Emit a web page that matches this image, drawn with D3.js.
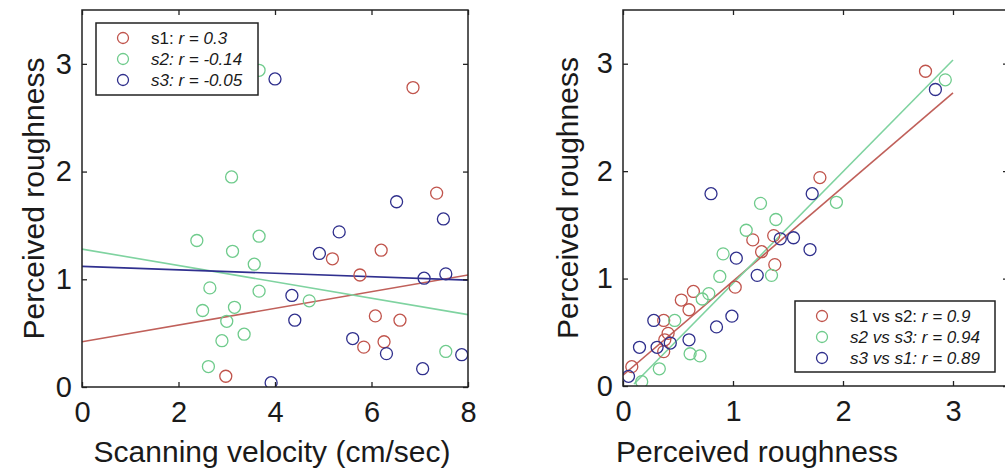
<!DOCTYPE html>
<html>
<head>
<meta charset="utf-8">
<script src="https://cdn.jsdelivr.net/npm/d3@7"></script>
<style>
  html, body { margin: 0; padding: 0; background: #fff; }
  svg { display: block; }
  text { font-family: "Liberation Sans", Arial, sans-serif; fill: #1a1a1a; }
</style>
</head>
<body>
<svg id="fig" width="1005" height="473"></svg>
<script>
// ---- Left panel: perceived roughness vs scanning velocity, per subject ----
const s1Velocity = [6.86, 7.35, 6.20, 5.19, 5.76, 6.08, 6.59, 5.84, 6.26, 2.98];
const s1Rough    = [2.78, 1.80, 1.27, 1.19, 1.04, 0.66, 0.62, 0.37, 0.42, 0.10];
const s2Velocity = [3.67, 3.10, 2.38, 3.67, 3.12, 3.57, 2.65, 3.67, 2.50, 3.16, 3.00, 3.36, 2.90, 2.62, 4.71, 7.54];
const s2Rough    = [2.94, 1.95, 1.36, 1.40, 1.26, 1.14, 0.92, 0.89, 0.71, 0.74, 0.61, 0.49, 0.43, 0.19, 0.80, 0.33];
const s3Velocity = [4.00, 6.52, 7.49, 5.33, 4.92, 4.35, 4.41, 5.61, 6.31, 7.06, 7.87, 7.09, 7.54, 3.92];
const s3Rough    = [2.86, 1.72, 1.56, 1.44, 1.24, 0.85, 0.62, 0.45, 0.31, 0.17, 0.30, 1.01, 1.05, 0.04];
// least-squares fit lines: [intercept, slope]
const velocityFits = [[0.42, 0.0775], [1.28, -0.076], [1.12, -0.016]];
const velocityLabels = [
  [["s1", false], [": ", false], ["r = 0.3", true]],
  [["s2: r = -0.14", true]],
  [["s3: r = -0.05", true]]
];
const velocityTicks = [0, 2, 4, 6, 8];
const roughTicks = [0, 1, 2, 3];

// ---- Right panel: pairwise roughness between subjects ----
const s1s2X = [2.75, 1.79, 1.37, 1.18, 1.26, 1.38, 1.02, 0.64, 0.53, 0.60, 0.37, 0.41, 0.38, 0.37, 0.08];
const s1s2Y = [2.93, 1.94, 1.40, 1.36, 1.25, 1.13, 0.92, 0.88, 0.80, 0.71, 0.61, 0.49, 0.43, 0.32, 0.18];
const s2s3X = [2.93, 1.94, 1.25, 1.39, 1.12, 1.35, 0.91, 0.88, 0.78, 0.72, 0.47, 0.61, 0.70, 0.33, 0.17];
const s2s3Y = [2.85, 1.71, 1.70, 1.55, 1.45, 1.03, 1.23, 1.02, 0.86, 0.81, 0.61, 0.30, 0.28, 0.16, 0.04];
const s3s1X = [2.84, 1.72, 0.80, 1.43, 1.55, 1.70, 1.03, 1.22, 0.99, 0.85, 0.28, 0.43, 0.60, 0.15, 0.31, 0.05];
const s3s1Y = [2.76, 1.79, 1.79, 1.37, 1.38, 1.27, 1.19, 1.03, 0.65, 0.55, 0.61, 0.40, 0.43, 0.36, 0.36, 0.09];
// fit lines: [intercept, slope, xStart, xEnd]
const pairFits = [[0.10, 0.876, 0.0, 3.0], [-0.085, 1.04, 0.1, 3.0]];
const pairLabels = [
  [["s1 vs s2: ", false], ["r = 0.9", true]],
  [["s2 vs s3: r = 0.94", true]],
  [["s3 vs s1: r = 0.89", true]]
];
const pairTicks = [0, 1, 2, 3];

const markerColors = ["#c0544c", "#6fcb8c", "#2f2f8c"];
const lineColors   = ["#c0605a", "#7fd3a0", "#30308f"];

const svg = d3.select("#fig");

function drawPanel(opt) {
  const g = svg.append("g");
  const x = d3.scaleLinear().domain(opt.xDomain).range(opt.xRange);
  const y = d3.scaleLinear().domain([0, 3.5]).range([opt.yBottom, opt.yTop]);
  const [x0, x1] = opt.xRange;
  const y0 = opt.yBottom, y1 = opt.yTop;
  const tick = 5;

  // clip for marks
  const clipId = "clip" + opt.id;
  svg.append("clipPath").attr("id", clipId)
    .append("rect").attr("x", x0).attr("y", y1).attr("width", x1 - x0).attr("height", y0 - y1);
  const marks = g.append("g").attr("clip-path", `url(#${clipId})`);

  // fit lines
  opt.fits.forEach((f, i) => {
    const xs = f.length > 2 ? [f[2], f[3]] : opt.xDomain;
    marks.append("line")
      .attr("x1", x(xs[0])).attr("y1", y(f[0] + f[1] * xs[0]))
      .attr("x2", x(xs[1])).attr("y2", y(f[0] + f[1] * xs[1]))
      .attr("stroke", opt.fitColors[i]).attr("stroke-width", 1.6);
  });

  // scatter points
  opt.series.forEach((s, i) => {
    marks.selectAll(null).data(s.xs.map((v, k) => [v, s.ys[k]])).enter()
      .append("circle")
      .attr("cx", d => x(d[0])).attr("cy", d => y(d[1])).attr("r", 6)
      .attr("fill", "none").attr("stroke", markerColors[i]).attr("stroke-width", 1.3);
  });

  // axes with inward ticks
  const xb = g.append("g").attr("transform", `translate(0,${y0})`)
    .call(d3.axisBottom(x).tickValues(opt.xTicks).tickSizeInner(-tick).tickSizeOuter(0).tickPadding(14).tickFormat(d3.format("d")));
  const xt = g.append("g").attr("transform", `translate(0,${y1})`)
    .call(d3.axisTop(x).tickValues(opt.xTicks).tickSizeInner(-tick).tickSizeOuter(0).tickFormat(""));
  const yl = g.append("g").attr("transform", `translate(${x0},0)`)
    .call(d3.axisLeft(y).tickValues(roughTicks).tickSizeInner(-tick).tickSizeOuter(0).tickPadding(10).tickFormat(d3.format("d")));
  const yr = g.append("g").attr("transform", `translate(${x1},0)`)
    .call(d3.axisRight(y).tickValues(roughTicks).tickSizeInner(-tick).tickSizeOuter(0).tickFormat(""));
  [xb, xt, yl, yr].forEach(a => {
    a.select(".domain").remove();
    a.selectAll("line").attr("stroke", "#222").attr("stroke-width", 1.3);
    a.selectAll("text").attr("font-size", 29).attr("fill", "#1a1a1a").attr("font-family", '"Liberation Sans", Arial, sans-serif');
  });
  xb.selectAll("text").attr("dy", "0.71em");
  // frame
  g.append("rect").attr("x", x0).attr("y", y1).attr("width", x1 - x0).attr("height", y0 - y1)
    .attr("fill", "none").attr("stroke", "#222").attr("stroke-width", 1.5);

  // titles
  g.append("text").attr("x", opt.xTitleX).attr("y", 462).attr("text-anchor", "middle")
    .attr("font-size", 30).text(opt.xTitle);
  g.append("text").attr("transform", `translate(${opt.yTitleX},${(y0 + y1) / 2}) rotate(-90)`)
    .attr("text-anchor", "middle").attr("font-size", 30).text("Perceived roughness");

  // legend
  const L = opt.legend;
  g.append("rect").attr("x", L.x).attr("y", L.y).attr("width", L.w).attr("height", L.h)
    .attr("fill", "#fff").attr("stroke", "#222").attr("stroke-width", 1.5);
  opt.labels.forEach((parts, i) => {
    const cy = L.y + 15 + i * 21;
    g.append("circle").attr("cx", L.x + 27).attr("cy", cy).attr("r", 5.5)
      .attr("fill", "none").attr("stroke", markerColors[i]).attr("stroke-width", 1.3);
    const t = g.append("text").attr("x", L.x + 55).attr("y", cy + 6).attr("font-size", 17).attr("fill", "#222");
    parts.forEach(p => t.append("tspan").attr("font-style", p[1] ? "italic" : "normal").text(p[0]));
  });
}

drawPanel({
  id: "L",
  xDomain: [0, 8], xRange: [82, 468], yBottom: 387, yTop: 10,
  xTicks: velocityTicks,
  series: [
    { xs: s1Velocity, ys: s1Rough },
    { xs: s2Velocity, ys: s2Rough },
    { xs: s3Velocity, ys: s3Rough }
  ],
  fits: velocityFits, fitColors: lineColors,
  labels: velocityLabels,
  legend: { x: 96, y: 23, w: 162, h: 72 },
  xTitle: "Scanning velocity (cm/sec)", xTitleX: 272, yTitleX: 44
});

drawPanel({
  id: "R",
  xDomain: [0, 3.5], xRange: [623, 1008], yBottom: 386, yTop: 10,
  xTicks: pairTicks,
  series: [
    { xs: s1s2X, ys: s1s2Y },
    { xs: s2s3X, ys: s2s3Y },
    { xs: s3s1X, ys: s3s1Y }
  ],
  fits: pairFits, fitColors: [lineColors[0], lineColors[1]],
  labels: pairLabels,
  legend: { x: 795, y: 301, w: 200, h: 71 },
  xTitle: "Perceived roughness", xTitleX: 757, yTitleX: 578
});
</script>
</body>
</html>
